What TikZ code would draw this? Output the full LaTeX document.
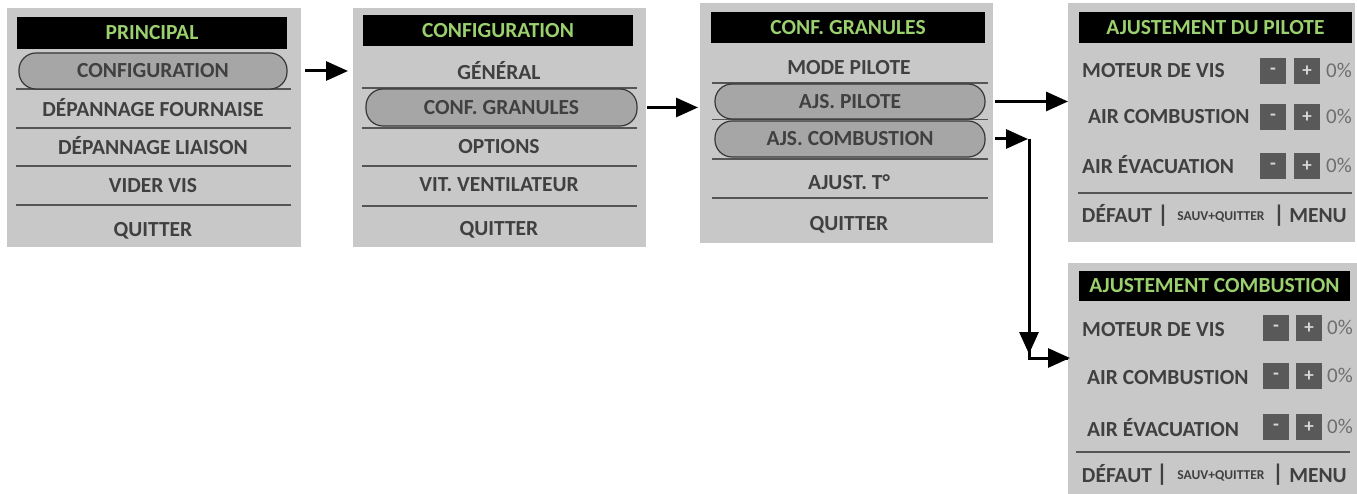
\documentclass[tikz,border=0pt]{standalone}
\usepackage{fontspec}
\setmainfont{Carlito}
\usetikzlibrary{arrows.meta,fit}
\definecolor{panelbg}{RGB}{200,200,200}
\definecolor{pillfill}{RGB}{166,166,166}
\definecolor{pillline}{RGB}{55,55,55}
\definecolor{sepcol}{RGB}{85,85,85}
\definecolor{txtcol}{RGB}{64,64,64}
\definecolor{titlegreen}{RGB}{155,208,110}
\definecolor{btnfill}{RGB}{89,89,89}
\definecolor{btntext}{RGB}{215,215,215}
\definecolor{pctcol}{RGB}{110,110,110}
\newcommand\myitemfont{\fontsize{21.5}{21.5}\selectfont\bfseries}
\newcommand\mytitlefont{\fontsize{21.5}{21.5}\selectfont\bfseries}
\newcommand\mysmallfont{\fontsize{13.5}{13.5}\selectfont\bfseries}
\newcommand\mybtnfont{\fontsize{19}{19}\selectfont\bfseries}
\newcommand\mypctfont{\fontsize{21}{21}\selectfont}
\newcommand\mybarfont{\fontsize{24}{24}\selectfont\bfseries}
\begin{document}
\begin{tikzpicture}[x=1pt,y=-1pt,
  panel/.style={fill=panelbg, draw=none, inner sep=0pt, outer sep=0pt},
  titlebar/.style={fill=black, inner sep=0pt, outer sep=0pt},
  titletext/.style={text=titlegreen, font=\mytitlefont, inner sep=0pt, text height=14pt, text depth=0pt},
  item/.style={text=txtcol, font=\myitemfont, inner sep=0pt, text height=14pt, text depth=0pt},
  lbl/.style={item, anchor=west},
  pill/.style={fill=pillfill, draw=pillline, line width=1.2pt, rounded corners=17pt, inner sep=0pt, outer sep=0pt},
  sep/.style={draw=sepcol, line width=2pt},
  thinsep/.style={draw=sepcol, line width=1pt},
  btn/.style={fill=btnfill, text=btntext, font=\mybtnfont, minimum width=26pt, minimum height=26pt, inner sep=0pt},
  pct/.style={text=pctcol, font=\mypctfont, inner sep=0pt, text height=13.5pt, text depth=0pt},
  small/.style={text=txtcol, font=\mysmallfont, inner sep=0pt, text height=9pt, text depth=0pt},
  bar/.style={text=txtcol, font=\mybarfont, inner sep=0pt},
  plain/.style={draw=black, line width=3pt},
  arr/.style={draw=black, line width=3pt, -{Triangle[length=22pt,width=19pt]}}
]
\useasboundingbox[fill=white] (0,0) rectangle (1357,494);

% ---------- Panel 1 ----------
\node[panel, fit={(7,8) (301,247)}] (P1) {};
\node[titlebar, fit={(17,17) (287,49)}] (P1t) {};
\node[titletext] (P1tt) at (P1t.center) {PRINCIPAL};
\draw[sep] (16,89) -- (291,89);
\draw[sep] (16,128) -- (291,128);
\draw[sep] (16,166) -- (291,166);
\draw[sep] (16,205) -- (291,205);
\node[pill, fit={(19,53) (287,89)}] (P1a) {};
\node[item] (P1at) at (P1a.center) {CONFIGURATION};
\node[item] (P1b) at (153,110) {DÉPANNAGE FOURNAISE};
\node[item] (P1c) at (153,148) {DÉPANNAGE LIAISON};
\node[item] (P1d) at (153,186) {VIDER VIS};
\node[item] (P1e) at (153,230) {QUITTER};

% ---------- Panel 2 ----------
\node[panel, fit={(353,8) (646,247)}] (P2) {};
\node[titlebar, fit={(363,15) (633,46)}] (P2t) {};
\node[titletext] (P2tt) at (P2t.center) {CONFIGURATION};
\node[item] (P2a) at (499,73) {GÉNÉRAL};
\draw[sep] (362,88) -- (637,88);
\draw[sep] (362,128) -- (637,128);
\draw[sep] (362,166) -- (637,166);
\draw[sep] (362,206) -- (637,206);
\node[pill, fit={(366,89) (637,126)}] (P2b) {};
\node[item] (P2bt) at (P2b.center) {CONF. GRANULES};
\node[item] (P2c) at (499,147) {OPTIONS};
\node[item] (P2d) at (499,185) {VIT. VENTILATEUR};
\node[item] (P2e) at (499,229) {QUITTER};

% ---------- Panel 3 ----------
\node[panel, fit={(700,3) (993,243)}] (P3) {};
\node[titlebar, fit={(711,12) (985,43)}] (P3t) {};
\node[titletext] (P3tt) at (P3t.center) {CONF. GRANULES};
\node[item] (P3a) at (849,68) {MODE PILOTE};
\draw[sep] (712,83) -- (988,83);
\draw[thinsep] (712,120) -- (988,120);
\draw[sep] (712,159) -- (988,159);
\draw[sep] (712,198) -- (988,198);
\node[pill, fit={(715,84) (985,119)}] (P3b) {};
\node[item] (P3bt) at (P3b.center) {AJS. PILOTE};
\node[pill, fit={(715,121) (985,157)}] (P3c) {};
\node[item] (P3ct) at (P3c.center) {AJS. COMBUSTION};
\node[item] (P3d) at (849,183) {AJUST. T°};
\node[item] (P3e) at (849,224) {QUITTER};

% ---------- Panel 4 ----------
\node[panel, fit={(1068,3) (1355,242)}] (P4) {};
\node[titlebar, fit={(1079,12) (1352,43)}] (P4t) {};
\node[titletext] (P4tt) at (P4t.center) {AJUSTEMENT DU PILOTE};
\node[lbl] (P4r1) at (1082,71) {MOTEUR DE VIS};
\node[btn] (P4m1) at (1273,71) {-};
\node[btn] (P4p1) at (1307,71) {+};
\node[pct] (P4v1) at (1339,71) {0\%};
\node[lbl] (P4r2) at (1088,117) {AIR COMBUSTION};
\node[btn] (P4m2) at (1273,117) {-};
\node[btn] (P4p2) at (1307,117) {+};
\node[pct] (P4v2) at (1339,117) {0\%};
\node[lbl] (P4r3) at (1082,167) {AIR ÉVACUATION};
\node[btn] (P4m3) at (1273,166) {-};
\node[btn] (P4p3) at (1307,166) {+};
\node[pct] (P4v3) at (1339,166) {0\%};
\draw[sep] (1078,193) -- (1352,193);
\node[item] (P4d) at (1117,216) {DÉFAUT};
\node[bar] (P4s1) at (1163,216) {|};
\node[small] (P4s) at (1221,216) {SAUV+QUITTER};
\node[bar] (P4s2) at (1279,216) {|};
\node[item] (P4n) at (1318,216) {MENU};

% ---------- Panel 5 ----------
\node[panel, fit={(1068,263) (1357,494)}] (P5) {};
\node[titlebar, fit={(1079,271) (1350,301)}] (P5t) {};
\node[titletext] (P5tt) at (P5t.center) {AJUSTEMENT COMBUSTION};
\node[lbl] (P5r1) at (1082,329) {MOTEUR DE VIS};
\node[btn] (P5m1) at (1276,328) {-};
\node[btn] (P5p1) at (1309,328) {+};
\node[pct] (P5v1) at (1340,328) {0\%};
\node[lbl] (P5r2) at (1087,377) {AIR COMBUSTION};
\node[btn] (P5m2) at (1276,376) {-};
\node[btn] (P5p2) at (1309,376) {+};
\node[pct] (P5v2) at (1340,376) {0\%};
\node[lbl] (P5r3) at (1087,429) {AIR ÉVACUATION};
\node[btn] (P5m3) at (1276,427) {-};
\node[btn] (P5p3) at (1309,427) {+};
\node[pct] (P5v3) at (1340,427) {0\%};
\draw[sep] (1076,452) -- (1350,452);
\node[item] (P5d) at (1117,475) {DÉFAUT};
\node[bar] (P5s1) at (1162,475) {|};
\node[small] (P5s) at (1221,475) {SAUV+QUITTER};
\node[bar] (P5s2) at (1278,475) {|};
\node[item] (P5n) at (1318,475) {MENU};

% ---------- Connectors ----------
\draw[arr, shorten <=18pt, shorten >=5pt] (P1a.east) -- (P1a.east -| P2.west);
\draw[arr, shorten <=10pt, shorten >=2pt] (P2b.east) -- (P2b.east -| P3.west);
\draw[arr, shorten <=10pt, shorten >=0pt] (P3b.east) -- (P3b.east -| P4.west);
\coordinate (c1) at (1029,139);
\coordinate (c2) at (1029,358);
\draw[plain] (c1) -- (c2) -- (c2 -| P5.west);
\draw[arr, shorten <=10pt, shorten >=1pt] (P3c.east) -- (c1);
\draw[arr, shorten >=4pt] (c1) -- (c2);
\draw[arr, shorten >=-2pt] (c2) -- (c2 -| P5.west);
\end{tikzpicture}
\end{document}
